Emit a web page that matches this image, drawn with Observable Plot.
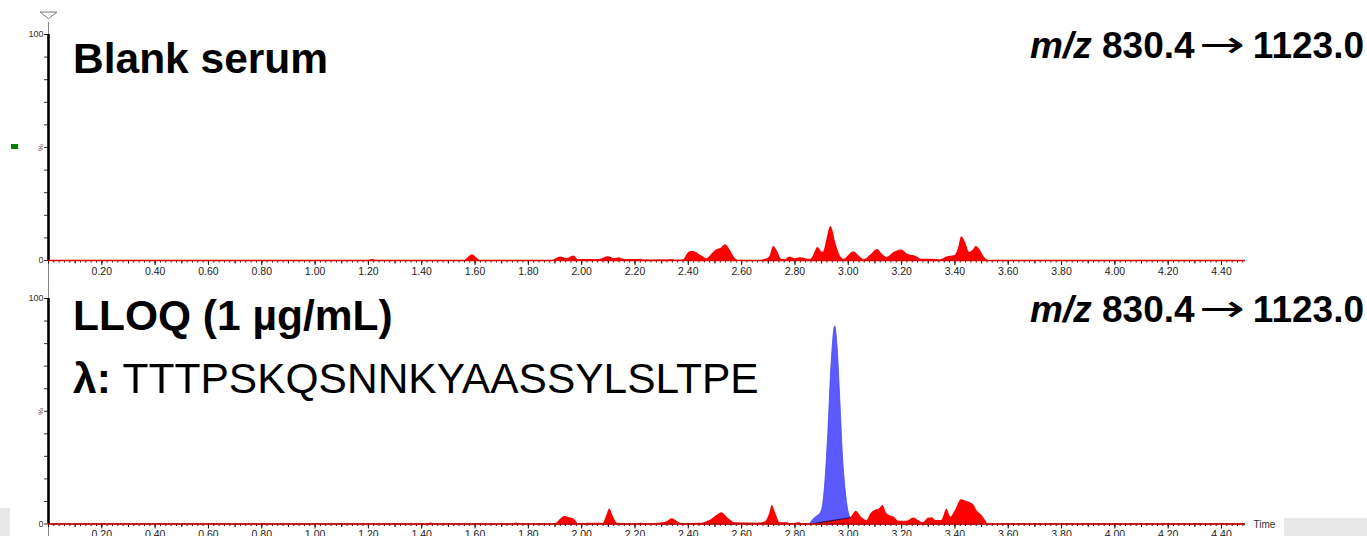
<!DOCTYPE html>
<html>
<head>
<meta charset="utf-8">
<script src="https://cdn.jsdelivr.net/npm/d3@7"></script>
<script src="https://cdn.jsdelivr.net/npm/@observablehq/plot@0.6"></script>
<style>
  html, body { margin: 0; padding: 0; background: #fff; overflow: hidden; }
  #wrap { position: relative; width: 1367px; height: 536px; }
  #charts svg { display: block; }
  .box { position: absolute; background: #e8e8e8; }
  #overlay { position: absolute; left: 0; top: 0; pointer-events: none; }
</style>
</head>
<body>
<div id="wrap">
  <div class="box" style="left:0;top:508px;width:10px;height:28px"></div>
  <div class="box" style="left:1284px;top:518px;width:83px;height:18px"></div>
  <div id="charts"></div>
  <div style="position:absolute;left:11px;top:144px;width:7px;height:5px;background:#008000"></div>
  <svg id="overlay" width="1367" height="536" font-family="'Liberation Sans', Arial, sans-serif">
    <text x="73" y="73" font-size="42.5" font-weight="bold">Blank serum</text>
    <g font-size="37" font-weight="bold">
      <text x="1030" y="58" font-style="italic">m/z</text>
      <text x="1102" y="58">830.4</text>
      <text x="1199" y="57" font-family="'DejaVu Sans'" font-weight="normal" textLength="46" lengthAdjust="spacingAndGlyphs">→</text>
      <text x="1364" y="58" text-anchor="end">1123.0</text>
    </g>
    <text x="73" y="330" font-size="42.5" font-weight="bold">LLOQ (1 µg/mL)</text>
    <g font-size="37" font-weight="bold">
      <text x="1030" y="322" font-style="italic">m/z</text>
      <text x="1102" y="322">830.4</text>
      <text x="1199" y="321" font-family="'DejaVu Sans'" font-weight="normal" textLength="46" lengthAdjust="spacingAndGlyphs">→</text>
      <text x="1364" y="322" text-anchor="end">1123.0</text>
    </g>
    <text x="73" y="393" font-size="42.5"><tspan font-weight="bold">λ:</tspan> TTTPSKQSNNKYAASSYLSLTPE</text>
  </svg>
</div>
<script>
// ---- Data ----
const blankTime = [0, 1.20, 1.215, 1.23, 1.56, 1.59, 1.62, 1.89, 1.92, 1.945, 1.97, 1.99, 2.02, 2.05, 2.07, 2.10, 2.125, 2.14, 2.16, 2.20, 2.22, 2.24, 2.32, 2.335, 2.35, 2.38, 2.405, 2.42, 2.445, 2.47, 2.49, 2.51, 2.52, 2.54, 2.555, 2.575, 2.59, 2.66, 2.69, 2.705, 2.72, 2.735, 2.75, 2.765, 2.78, 2.80, 2.82, 2.84, 2.86, 2.875, 2.885, 2.905, 2.935, 2.955, 2.97, 2.985, 3.00, 3.02, 3.045, 3.06, 3.085, 3.11, 3.13, 3.145, 3.17, 3.20, 3.225, 3.25, 3.275, 3.30, 3.33, 3.345, 3.37, 3.40, 3.415, 3.425, 3.44, 3.455, 3.47, 3.48, 3.495, 3.51, 3.525, 4.49];
const blankIntensity = [0, 0, 0.4, 0, 0, 2.5, 0, 0, 1.5, 0.8, 2.0, 0.3, 0.4, 0.3, 0.5, 1.7, 0.8, 1.2, 0.4, 0.4, 0.6, 0.2, 0.2, 0.4, 0.1, 0.2, 3.8, 4.0, 2.4, 0.8, 3.0, 5.0, 5.2, 7.0, 5.0, 1.0, 0, 0, 0.5, 1.5, 6.2, 4.0, 0.5, 0.3, 1.5, 0.8, 1.2, 0.8, 0.5, 3.5, 5.8, 3.6, 15.0, 7.0, 2.0, 0.5, 2.0, 3.9, 1.5, 0.3, 2.5, 4.9, 2.5, 1.3, 3.4, 4.7, 2.7, 2.0, 0.6, 0.5, 0.4, 0.2, 1.5, 2.2, 6.0, 10.5, 8.0, 3.6, 4.8, 6.2, 4.5, 1.5, 0, 0];

const lloqTime = [0, 1.42, 1.435, 1.45, 1.74, 1.755, 1.77, 1.90, 1.925, 1.935, 1.955, 1.97, 1.99, 2.03, 2.06, 2.08, 2.095, 2.105, 2.12, 2.135, 2.21, 2.225, 2.24, 2.29, 2.32, 2.34, 2.36, 2.375, 2.45, 2.48, 2.51, 2.525, 2.55, 2.575, 2.66, 2.69, 2.705, 2.715, 2.73, 2.745, 2.77, 2.79, 2.815, 2.83, 2.857, 2.93, 3.008, 3.03, 3.05, 3.07, 3.085, 3.10, 3.115, 3.13, 3.145, 3.16, 3.175, 3.19, 3.22, 3.245, 3.265, 3.28, 3.30, 3.315, 3.33, 3.35, 3.37, 3.385, 3.40, 3.425, 3.445, 3.47, 3.485, 3.50, 3.515, 3.525, 4.49];
const lloqIntensity = [0, 0, 0.4, 0, 0, 0.4, 0, 0, 2.5, 3.3, 2.8, 2.3, 0, 0.3, 0.3, 0.2, 4.0, 6.7, 3.0, 0.3, 0, 0.3, 0, 0.3, 1.0, 2.3, 1.0, 0.2, 0.3, 1.5, 4.0, 5.0, 2.5, 0.5, 0.3, 1.0, 4.5, 8.2, 4.0, 0.5, 0.6, 0.2, 0.6, 0.2, 0, 1.35, 2.8, 5.7, 3.0, 1.5, 4.5, 6.0, 6.5, 8.2, 4.5, 3.5, 2.8, 1.2, 1.2, 2.7, 1.5, 0.5, 2.5, 2.8, 1.5, 1.5, 6.5, 3.0, 5.5, 10.8, 10.0, 8.5, 5.5, 4.0, 1.5, 0, 0];

const peakTime = [2.857, 2.87, 2.885, 2.898, 2.905, 2.915, 2.925, 2.937, 2.951, 2.96, 2.97, 2.98, 2.99, 3.00, 3.008];
const peakIntensity = [0, 2.0, 3.5, 5.0, 8, 20, 40, 70, 87.6, 78, 55, 30, 15, 6, 2.8];

const baselineTime = [2.857, 3.008];
const baselineIntensity = [0, 2.8];

const xLabelTicks = d3.range(1, 23).map(i => +(i * 0.2).toFixed(2));
const xMidTicks = d3.range(0, 45).map(i => +(i * 0.1).toFixed(2));
const xMinorTicks = d3.range(0, 225).map(i => +(i * 0.02).toFixed(2));
const yTicks = [0, 10, 20, 30, 40, 50, 60, 70, 80, 90, 100];
const yTickLabels = {0: "0", 50: "", 100: "100"};
const xDomain = [0, 4.49];
const timeLabel = "Time";
const percentLabel = "%";

const zip = (t, v) => t.map((x, i) => ({t: x, v: v[i]}));
const blankData = zip(blankTime, blankIntensity);
const lloqData = zip(lloqTime, lloqIntensity);
const peakData = zip(peakTime, peakIntensity);
const baselineData = zip(baselineTime, baselineIntensity);

const triangleSymbol = {
  draw(ctx) { ctx.moveTo(-8.5, -3); ctx.lineTo(8.5, -3); ctx.lineTo(0, 3.5); ctx.closePath(); }
};

function commonAxes(grayTop, grayBottom) {
  return [
    Plot.ruleX([0], {y1: 100, y2: grayTop, stroke: "#888", strokeWidth: 1}),
    Plot.ruleX([0], {y1: 0, y2: grayBottom, stroke: "#888", strokeWidth: 1}),
    Plot.axisY({ticks: yTicks, tickSize: 4, tickPadding: 1, fontSize: 9, color: "#333", label: null,
      tickFormat: d => yTickLabels[d] ?? ""}),
    Plot.text([percentLabel], {x: 0, y: 50, dx: -8, rotate: 90, fontSize: 8, fill: "#555"}),
    Plot.axisX({ticks: xMinorTicks, tickSize: 2.5, tickFormat: () => "", color: "#111", label: null}),
    Plot.axisX({ticks: xMidTicks, tickSize: 3.5, tickFormat: () => "", color: "#111", label: null}),
    Plot.axisX({ticks: xLabelTicks, tickSize: 5, tickPadding: 2, fontSize: 10.5, label: null,
      tickFormat: d3.format(".2f"), color: "#222"}),
    Plot.ruleY([0], {stroke: "#000", strokeWidth: 1}),
    Plot.ruleY([0], {stroke: "#e00000", strokeWidth: 1.6}),
    Plot.ruleX([0], {y1: 0, y2: 100, stroke: "#000", strokeWidth: 2.6})
  ];
}

const plotStyle = {fontFamily: "'Liberation Sans', Arial, sans-serif", fontSize: "10px", background: "transparent", overflow: "visible"};

const topChart = Plot.plot({
  width: 1367, height: 282,
  marginLeft: 48, marginRight: 122, marginTop: 34, marginBottom: 22,
  style: plotStyle,
  x: {domain: xDomain, label: null},
  y: {domain: [0, 100], label: null},
  marks: [
    Plot.areaY(blankData, {x: "t", y: "v", fill: "#ff0000", curve: "monotone-x"}),
    ...commonAxes(105.3, -9.7),
    Plot.dot([0], {x: 0, y: 108.6, symbol: triangleSymbol, fill: "white", stroke: "#777", strokeWidth: 1})
  ]
});

const bottomChart = Plot.plot({
  width: 1367, height: 254,
  marginLeft: 48, marginRight: 122, marginTop: 16, marginBottom: 12.5,
  style: plotStyle,
  x: {domain: xDomain, label: null},
  y: {domain: [0, 100], label: null},
  marks: [
    Plot.areaY(peakData, {x: "t", y: "v", fill: "#5a5aff", stroke: "#4646ee", strokeWidth: 0.8, curve: "monotone-x"}),
    Plot.areaY(lloqData, {x: "t", y: "v", fill: "#ff0000", curve: "monotone-x"}),
    Plot.line(baselineData, {x: "t", y: "v", stroke: "#15155a", strokeWidth: 1}),
    ...commonAxes(107.2, -6),
    Plot.text([timeLabel], {x: 4.49, y: 0, dx: 8, dy: 1, textAnchor: "start", fontSize: 10, fill: "#333"})
  ]
});

document.getElementById("charts").append(topChart, bottomChart);
</script>
</body>
</html>
